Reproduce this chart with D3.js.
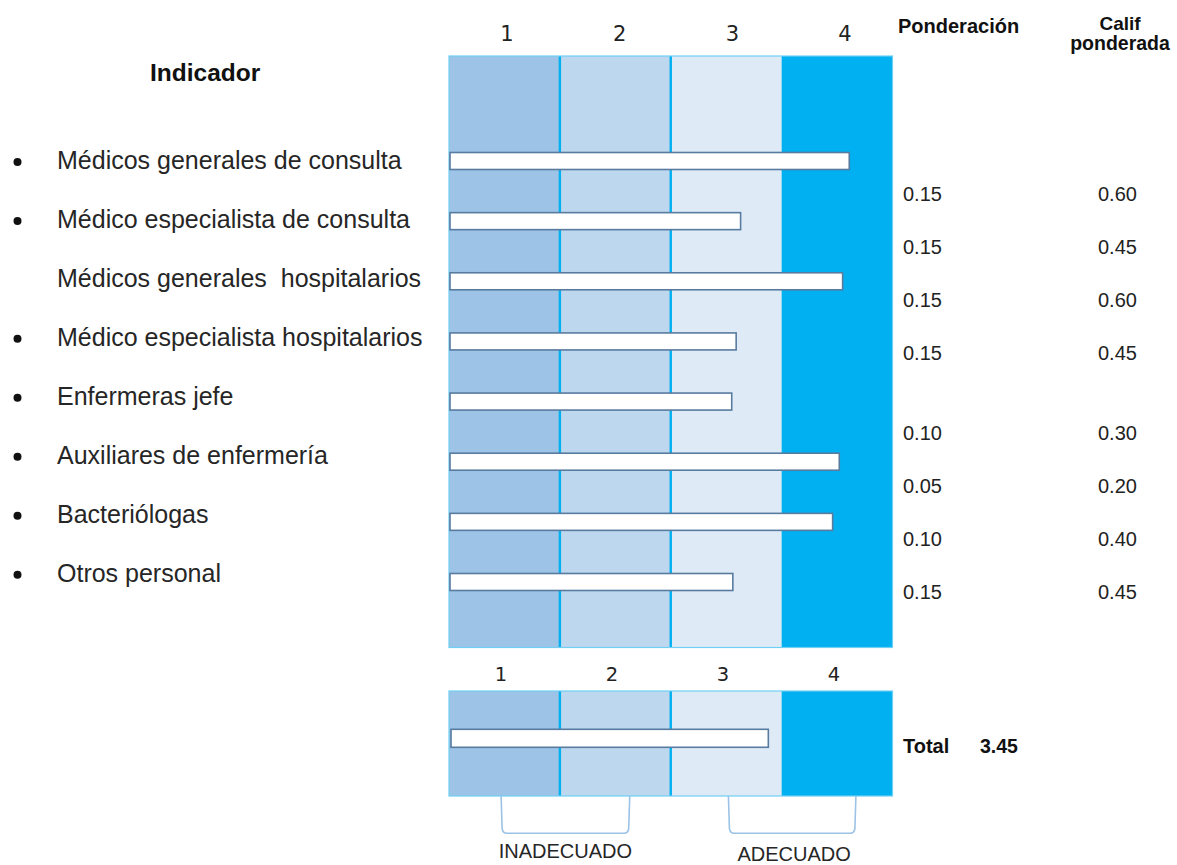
<!DOCTYPE html>
<html><head><meta charset="utf-8">
<script src="https://cdn.jsdelivr.net/npm/d3@7"></script>
<style>
body{margin:0;background:#fff}
text{font-family:"Liberation Sans",Arial,sans-serif;fill:#262626}
</style>
</head><body><svg id="c" width="1177" height="865"></svg>
<script>
// ---- data ----
const indicators = [
  "Médicos generales de consulta",
  "Médico especialista de consulta",
  "Médicos generales  hospitalarios",
  "Médico especialista hospitalarios",
  "Enfermeras jefe",
  "Auxiliares de enfermería",
  "Bacteriólogas",
  "Otros personal"
];
const bulleted = [true, true, false, true, true, true, true, true];
const barValues = [4.11, 3.13, 4.05, 3.09, 3.05, 4.02, 3.96, 3.06];
const ponderacion = [0.15, 0.15, 0.15, 0.15, 0.10, 0.05, 0.10, 0.15];
const califPonderada = [0.60, 0.45, 0.60, 0.45, 0.30, 0.20, 0.40, 0.45];
const scaleTicks = [1, 2, 3, 4];
const bandColors = ["#9dc3e6", "#bdd7ee", "#deebf7", "#00b0f0"];
const totalValue = 3.45;
const totalBar = 3.38;
const bracketLabels = ["INADECUADO", "ADECUADO"];
const bracketFrom = [0.97, 3.02];
const bracketTo = [2.13, 4.17];

// ---- layout ----
const svg = d3.select("#c");
const x = d3.scaleLinear().domain([0.5, 4.5]).range([449, 892.5]);
const rowY = d3.scaleLinear().domain([0, 7]).range([161, 582]);
const labelY = d3.scaleLinear().domain([0, 7]).range([169, 581.7]);
const valueY = d3.scaleLinear().domain([0, 7.5]).range([200.7, 598.9]);
const slot = i => i + (i >= 4 ? 0.5 : 0);
const topHead = d3.scaleLinear().domain([1, 4]).range([507, 845]);
const botHead = d3.scaleLinear().domain([1, 4]).range([501, 834]);
const barH = 17;

function panel(y0, y1) {
  const g = svg.append("g");
  g.selectAll("rect.band").data(scaleTicks).join("rect")
    .attr("x", d => x(d - 0.5)).attr("width", d => x(d + 0.5) - x(d - 0.5))
    .attr("y", y0).attr("height", y1 - y0)
    .attr("fill", (d, i) => bandColors[i]);
  g.selectAll("line.div").data([1.5, 2.5]).join("line")
    .attr("x1", d => x(d)).attr("x2", d => x(d))
    .attr("y1", y0).attr("y2", y1)
    .attr("stroke", "#00b0f0").attr("stroke-width", 2.4);
  g.append("rect")
    .attr("x", x(0.5)).attr("y", y0)
    .attr("width", x(4.5) - x(0.5)).attr("height", y1 - y0)
    .attr("fill", "none").attr("stroke", "#6fcff4").attr("stroke-width", 1.2);
  return g;
}

// main panel
panel(56, 647.5);
svg.selectAll("text.th").data(scaleTicks).join("text")
  .attr("x", d => topHead(d)).attr("y", 40.7)
  .attr("text-anchor", "middle")
  .style("font-family", "'DejaVu Sans',sans-serif").style("font-size", "21px")
  .style("fill", "#222").text(d => d);

// bars
svg.selectAll("rect.bar").data(barValues).join("rect")
  .attr("x", x(0.5) + 1).attr("y", (d, i) => rowY(i) - barH / 2)
  .attr("width", d => x(d) - x(0.5) - 1).attr("height", barH)
  .attr("fill", "#fff").attr("stroke", "#587ba0").attr("stroke-width", 1.6);

// indicator title
svg.append("text").attr("x", 150).attr("y", 80.7)
  .style("font-size", "24.5px").style("font-weight", "bold").style("fill", "#111")
  .text("Indicador");

// labels
svg.selectAll("text.lab").data(indicators).join("text")
  .attr("x", 57).attr("y", (d, i) => labelY(i))
  .attr("xml:space", "preserve").style("white-space", "pre")
  .style("font-size", "25px").text(d => d);
svg.selectAll("circle.bul").data(indicators.map((d, i) => i).filter(i => bulleted[i])).join("circle")
  .attr("cx", 17.5).attr("cy", i => labelY(i) - 7).attr("r", 4).attr("fill", "#111");

// column headers
svg.append("text").attr("x", 898).attr("y", 33)
  .style("font-size", "20px").style("font-weight", "bold").style("fill", "#111").text("Ponderación");
svg.append("text").attr("x", 1120).attr("y", 29.5).attr("text-anchor", "middle")
  .style("font-size", "19px").style("font-weight", "bold").style("fill", "#111").text("Calif");
svg.append("text").attr("x", 1120).attr("y", 49.5).attr("text-anchor", "middle")
  .style("font-size", "19.5px").style("font-weight", "bold").style("fill", "#111").text("ponderada");

// values
svg.selectAll("text.pond").data(ponderacion).join("text")
  .attr("x", 903).attr("y", (d, i) => valueY(slot(i)))
  .style("font-size", "20px").style("fill", "#222").text(d => d.toFixed(2));
svg.selectAll("text.cal").data(califPonderada).join("text")
  .attr("x", 1098).attr("y", (d, i) => valueY(slot(i)))
  .style("font-size", "20px").style("fill", "#222").text(d => d.toFixed(2));

// bottom panel
panel(691, 796);
svg.selectAll("text.bh").data(scaleTicks).join("text")
  .attr("x", d => botHead(d)).attr("y", 680.7)
  .attr("text-anchor", "middle")
  .style("font-family", "'DejaVu Sans',sans-serif").style("font-size", "19.5px")
  .style("fill", "#222").text(d => d);
svg.append("rect")
  .attr("x", x(0.5) + 2).attr("y", 738.3 - 9)
  .attr("width", x(totalBar) - x(0.5) - 2).attr("height", 18)
  .attr("fill", "#fff").attr("stroke", "#587ba0").attr("stroke-width", 1.6);
svg.append("text").attr("x", 903).attr("y", 753.3)
  .style("font-size", "20px").style("font-weight", "bold").style("fill", "#111").text("Total");
svg.append("text").attr("x", 980).attr("y", 753.3)
  .style("font-size", "19.5px").style("font-weight", "bold").style("fill", "#111").text(totalValue.toFixed(2));

// brackets
const bTop = 796, bBot = 833.3, r = 5;
svg.selectAll("path.br").data(bracketLabels).join("path")
  .attr("d", (d, i) => {
    const a = x(bracketFrom[i]), b = x(bracketTo[i]);
    return `M${a},${bTop} L${a + 1},${bBot - r} Q${a + 1.5},${bBot} ${a + r + 1},${bBot} L${b - r - 1},${bBot} Q${b - 1.5},${bBot} ${b - 1},${bBot - r} L${b},${bTop}`;
  })
  .attr("fill", "none").attr("stroke", "#9cc3e6").attr("stroke-width", 1.6);
svg.selectAll("text.brl").data(bracketLabels).join("text")
  .attr("x", (d, i) => (x(bracketFrom[i]) + x(bracketTo[i])) / 2 + (i ? 2 : 0))
  .attr("y", (d, i) => 858 + i * 3)
  .attr("text-anchor", "middle")
  .style("font-size", "20px").style("fill", "#262626").text(d => d);
</script>
</body></html>
